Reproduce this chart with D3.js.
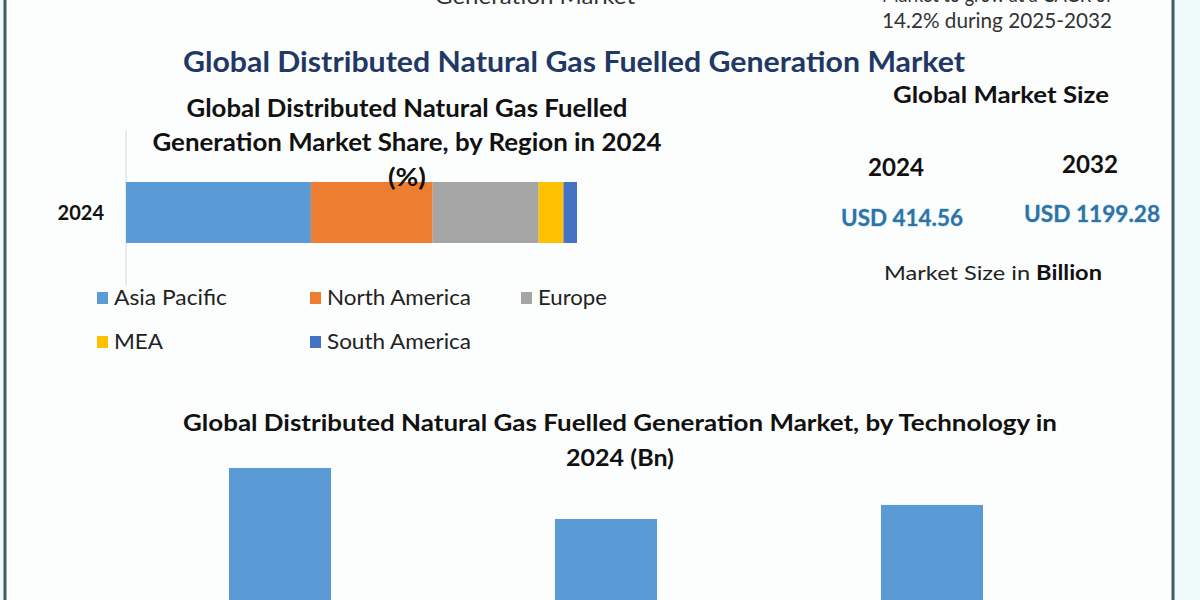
<!DOCTYPE html>
<html><head><meta charset="utf-8">
<script src="https://cdn.jsdelivr.net/npm/d3@7"></script>
<style>
html,body{margin:0;padding:0;background:#f4fbfb;}
svg{display:block;}
text{font-family:Lato, "Open Sans", sans-serif;}
</style></head>
<body><svg id="c" width="1200" height="600"></svg>
<script>
// ---- data ----
const regions = ["Asia Pacific","North America","Europe","MEA","South America"];
const regionShare2024 = [41, 27, 23.5, 5.5, 3];           // % share, 2024
const regionColors = ["#5b9bd5","#ed7d31","#a5a5a5","#ffc000","#4472c4"];
const shareYear = ["2024"];
const technologies = ["Reciprocating Engines","Gas Turbines","Microturbines"];
const technologyValues2024 = [166.6, 117.2, 130.8];       // USD Bn (estimated)
const sizeYears = ["2024","2032"];
const sizeValues = ["USD 414.56","USD 1199.28"];

const svg = d3.select("#c");

// background + frame
svg.append("rect").attr("x",0).attr("y",0).attr("width",1200).attr("height",600).attr("fill","#eef9f9");
svg.append("rect").attr("x",6).attr("y",0).attr("width",1166).attr("height",600).attr("fill","#fcfdfd");
svg.append("line").attr("x1",5).attr("x2",5).attr("y1",0).attr("y2",600).attr("stroke","#3f5b63").attr("stroke-width",3);
svg.append("line").attr("x1",1173).attr("x2",1173).attr("y1",0).attr("y2",600).attr("stroke","#3f5b63").attr("stroke-width",3);

function txt(s, x, y, size, opts={}) {
  const t = svg.append("text").attr("x",x).attr("y",y)
    .attr("text-anchor", opts.anchor || "middle")
    .attr("font-size", size)
    .attr("font-weight", opts.weight || "normal")
    .attr("fill", opts.fill || "#111");
  if (opts.len) t.attr("textLength", opts.len).attr("lengthAdjust","spacingAndGlyphs");
  if (opts.family) t.attr("font-family", opts.family);
  t.text(s);
  return t;
}

// cut-off text at top (as in the reference)
txt("Generation Market", 535, 4, 21, {fill:"#333", len:200});
txt("Market to grow at a CAGR of", 997, 2, 21, {fill:"#333", len:230});
txt("14.2% during 2025-2032", 997, 28, 21, {fill:"#333", len:230});

// main title
txt("Global Distributed Natural Gas Fuelled Generation Market", 574, 72, 28, {weight:"bold", fill:"#1f3864", len:782});

// ---- stacked region bar ----
txt("Global Distributed Natural Gas Fuelled", 407, 117, 24, {weight:"bold", len:441});
txt("Generation Market Share, by Region in 2024", 407, 151, 24, {weight:"bold", len:509});

const x = d3.scaleLinear().domain([0,100]).range([126,577]);
svg.append("line").attr("x1",126).attr("x2",126).attr("y1",130).attr("y2",286).attr("stroke","#d9d9d9").attr("stroke-width",1);

let cum = 0;
const stack = regionShare2024.map((v,i)=>{ const s={start:cum,end:cum+v,i}; cum+=v; return s; });
svg.append("g").selectAll("rect").data(stack).join("rect")
  .attr("x", d=>x(d.start)).attr("width", d=>x(d.end)-x(d.start))
  .attr("y", 182).attr("height", 61)
  .attr("fill", d=>regionColors[d.i]);

txt("(%)", 407, 186, 24, {weight:"bold", len:38});

svg.append("text").attr("x",104).attr("y",220).attr("text-anchor","end")
  .attr("font-size",20).attr("font-weight","bold").attr("fill","#111").text(shareYear[0]);

// legend
const legPos = [[97,298],[310,298],[521,298],[97,342],[310,342]];
const legLen = [113,144,69,49,144];
const lg = svg.append("g");
regions.forEach((r,i)=>{
  const [lx,ly] = legPos[i];
  lg.append("rect").attr("x",lx).attr("y",ly-6).attr("width",11).attr("height",12).attr("fill",regionColors[i]);
  lg.append("text").attr("x",lx+17).attr("y",ly+7).attr("font-size",21).attr("fill","#222")
    .attr("textLength",legLen[i]).attr("lengthAdjust","spacingAndGlyphs").text(r);
});

// ---- market size panel ----
txt("Global Market Size", 1001, 103, 22, {weight:"bold", len:216});
txt(sizeYears[0], 896, 176, 24, {weight:"bold", len:56});
txt(sizeYears[1], 1090, 173, 24, {weight:"bold", len:56});
const valStyle = (t)=>t.attr("stroke","#a8d8ee").attr("stroke-width",0.8).attr("paint-order","stroke");
valStyle(txt(sizeValues[0], 902, 226, 22, {weight:"bold", fill:"#2f72a6", len:122}));
valStyle(txt(sizeValues[1], 1092, 222, 22, {weight:"bold", fill:"#2f72a6", len:136}));
const ms = svg.append("text").attr("x",993).attr("y",280).attr("text-anchor","middle").attr("font-size",20).attr("fill","#222")
  .attr("textLength",218).attr("lengthAdjust","spacingAndGlyphs");
ms.append("tspan").text("Market Size in ");
ms.append("tspan").attr("font-weight","bold").attr("fill","#111").text("Billion");

// ---- technology bar chart ----
txt("Global Distributed Natural Gas Fuelled Generation Market, by Technology in", 620, 431, 22, {weight:"bold", len:874});
txt("2024 (Bn)", 620, 466, 22, {weight:"bold", len:108});

const xb = d3.scaleBand().domain(technologies).range([100,1112]).paddingInner(0.687).paddingOuter(0.3957);
const yb = d3.scaleLinear().domain([0,200]).range([640,433.5]);
svg.append("g").selectAll("rect").data(technologies).join("rect")
  .attr("x", d=>xb(d)).attr("width", xb.bandwidth())
  .attr("y", (d,i)=>yb(technologyValues2024[i]))
  .attr("height", (d,i)=>yb(0)-yb(technologyValues2024[i]))
  .attr("fill","#5b9bd5");
</script></body></html>
